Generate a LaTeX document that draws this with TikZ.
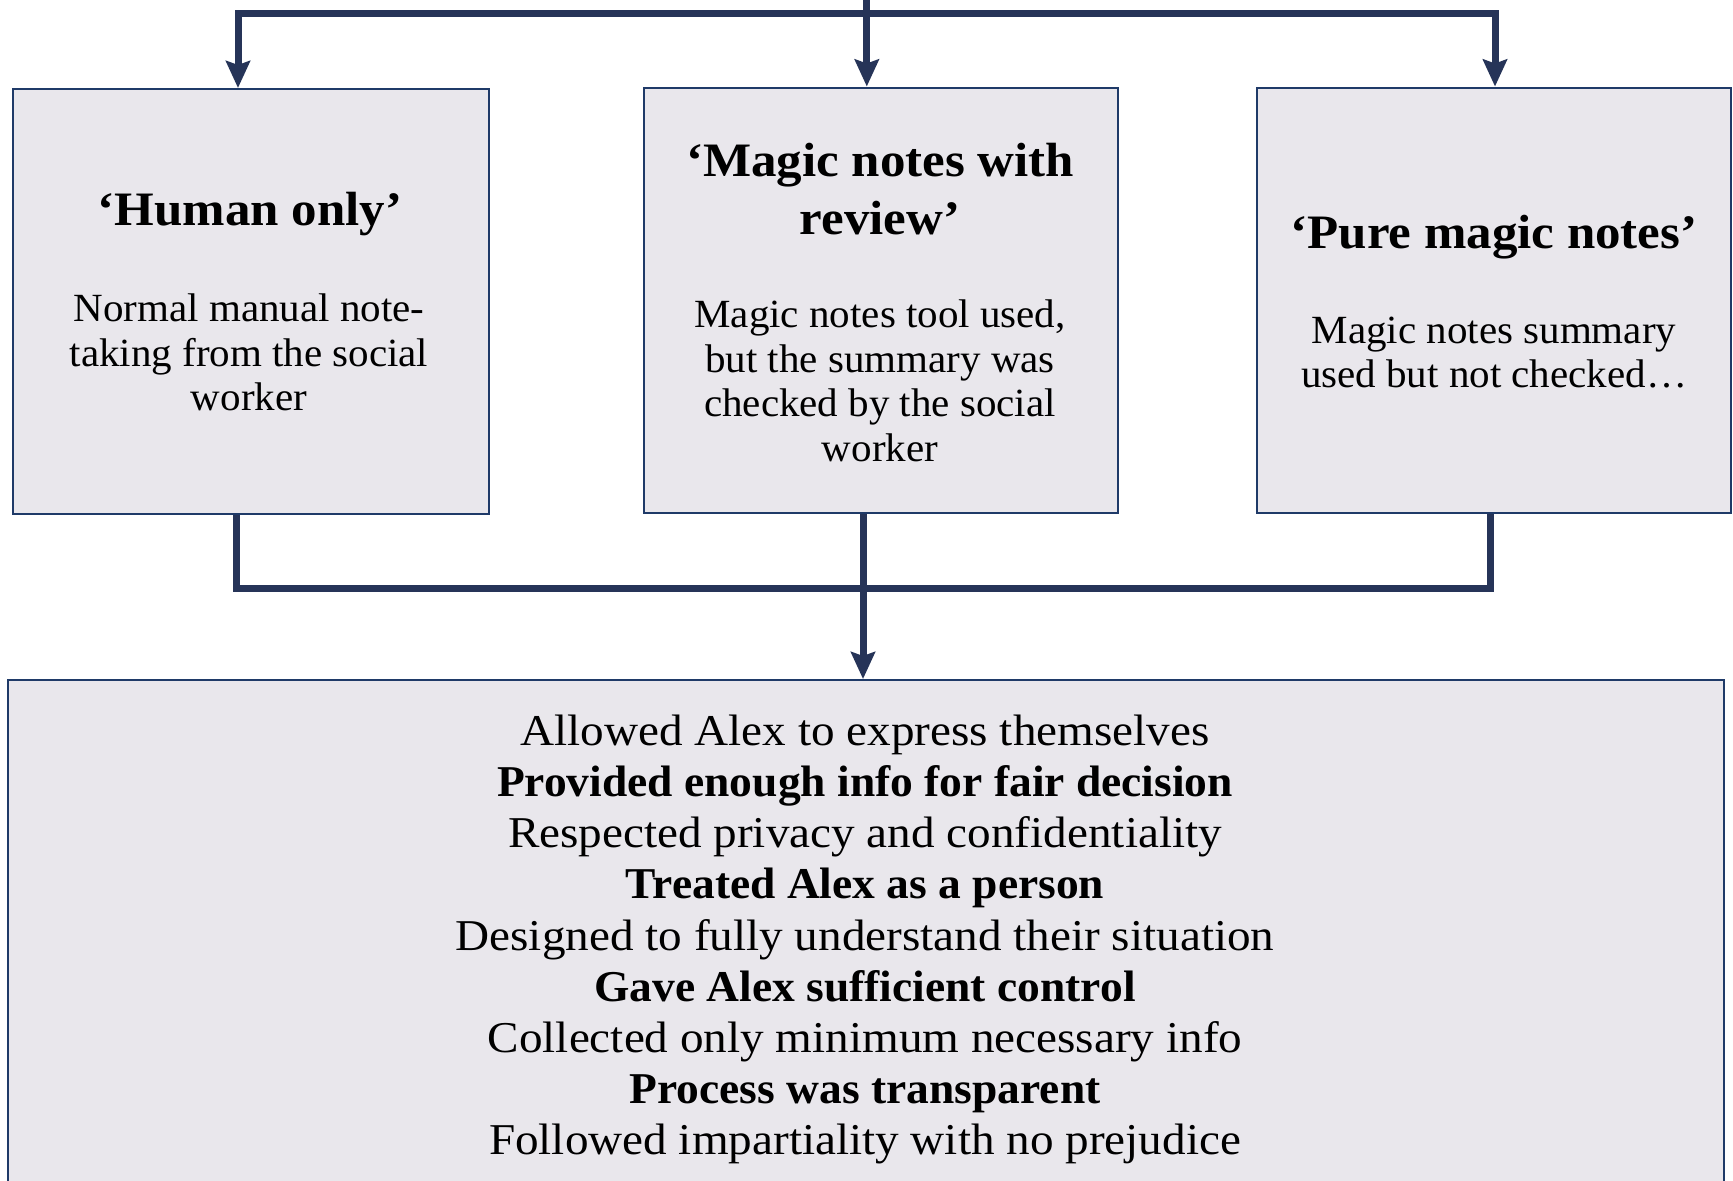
\documentclass[tikz,border=0pt]{standalone}
\usepackage{fontspec}
\setmainfont{Liberation Serif}[FakeStretch=1.05]
\newfontfamily\bodyfont{Liberation Serif}[FakeStretch=1.025]
\newfontfamily\titlefont{Liberation Serif}[FakeStretch=1.062]
\newfontfamily\listfont{Liberation Serif}[FakeStretch=1.072]
\newfontfamily\listboldfont{Liberation Serif}[FakeStretch=1.034]
\newcommand\lbold[1]{{\listboldfont\bfseries #1}}
\usetikzlibrary{arrows.meta}
\definecolor{boxfill}{RGB}{233,231,236}
\definecolor{boxline}{RGB}{31,58,104}
\definecolor{conn}{RGB}{38,52,88}
\tikzset{
  box/.style={draw=boxline, line width=2pt, fill=boxfill, inner sep=0pt, rectangle},
  link/.style={draw=conn, line width=7pt, line join=miter},
  arr/.style={link, -{Stealth[length=27pt,width=24pt,inset=4pt]}},
  body/.style={align=center, inner sep=0pt, font=\fontsize{40}{44.5}\bodyfont},
  title/.style={align=center, inner sep=0pt, font=\fontsize{48}{58}\titlefont\bfseries},
  list/.style={align=center, inner sep=0pt, font=\fontsize{44}{51.1}\listfont}
}
\begin{document}
\begin{tikzpicture}[x=1pt,y=-1pt]
\useasboundingbox (0,0) rectangle (1733,1181);
\clip (0,0) rectangle (1733,1181);
\fill[white] (0,0) rectangle (1733,1181);
% boxes
\node[box, minimum width=475.5pt, minimum height=425pt] (b1) at (250.75,301.5) {};
\node[box, minimum width=474.5pt, minimum height=425pt] (b2) at (880.75,300) {};
\node[box, minimum width=474pt, minimum height=425pt] (b3) at (1494,300) {};
\node[box, minimum width=1716pt, minimum height=520pt] (b4) at (866,940) {};
% coordinates
\coordinate (top) at (866.8,-10);
\coordinate (tl) at (238,13);
\coordinate (tm) at (866.8,13);
\coordinate (tr) at (1495,13);
\coordinate (bl) at (236.5,588);
\coordinate (br) at (1490.5,588);
\coordinate (bm) at (863,588);
% connectors
\draw[arr] (top) -- (top |- b2.north);
\draw[arr] (tm) -- (tl) -- (tl |- b1.north);
\draw[arr] (tm) -- (tr) -- (tr |- b3.north);
\draw[link] (bl |- b1.south) -- (bl) -- (br) -- (br |- b3.south);
\draw[arr] (bm |- b2.south) -- (bm |- b4.north);
% texts
\node[title] (t1) at (250,214.5) {‘Human only’};
\node[body] (d1) at (249,352.5) {Normal manual note-\\taking from the social\\worker};
\node[title] (t2) at (880,189.5) {‘Magic notes with\\review’};
\node[body] (d2) at (880,381) {Magic notes tool used,\\but the summary was\\checked by the social\\worker};
\node[title] (t3) at (1494,237.5) {‘Pure magic notes’};
\node[body] (d3) at (1494,352.5) {Magic notes summary\\used but not checked…};
\node[list] (l4) at (865,939.5) {Allowed Alex to express themselves\\
\lbold{Provided enough info for fair decision}\\
Respected privacy and confidentiality\\
\lbold{Treated Alex as a person}\\
Designed to fully understand their situation\\
\lbold{Gave Alex sufficient control}\\
Collected only minimum necessary info\\
\lbold{Process was transparent}\\
Followed impartiality with no prejudice};
\end{tikzpicture}
\end{document}
